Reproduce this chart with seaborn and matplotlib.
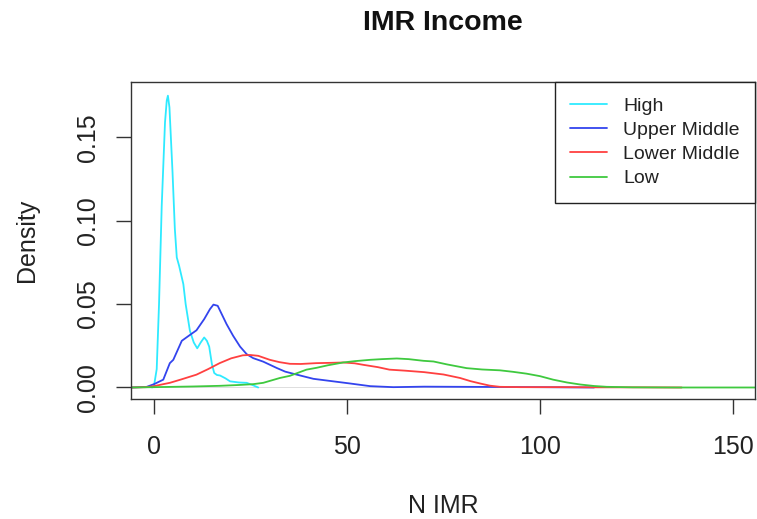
# IMR density by income group - base-R style density chart redone in seaborn

import numpy as np
import pandas as pd
import matplotlib
matplotlib.use('Agg')
import matplotlib.pyplot as plt
import seaborn as sns

# density curves (x = N IMR, y = density)
high_x = [-0.5, 0.0, 0.7, 1.3, 2.0, 2.85, 3.3, 3.6, 4.0, 4.8, 5.4, 5.9, 6.5, 7.2, 7.6, 8.2, 9.3,
          10.3, 11.2, 12.1, 13.0, 13.7, 14.3, 15.0, 15.6, 16.3, 17.1, 18.5, 19.7, 22.0, 24.0, 25.5, 27.0]
high_y = [0.0, 0.001, 0.011, 0.05, 0.109, 0.159, 0.172, 0.175, 0.168, 0.129, 0.095, 0.078, 0.073,
          0.066, 0.062, 0.05, 0.034, 0.027, 0.0235, 0.027, 0.030, 0.028, 0.0245, 0.014, 0.0087,
          0.0075, 0.0072, 0.0055, 0.0037, 0.003, 0.0028, 0.0015, 0.0]

upper_x = [-6, -2, 0, 2.4, 4.1, 5.0, 7.2, 9, 11, 13, 14.5, 15.4, 16.5, 18.8, 20.5, 22.3, 24, 25.7,
           28.3, 31.8, 34, 37, 41.3, 46.4, 50.8, 56, 62, 70, 80, 90, 100, 114]
upper_y = [0.0, 0.0003, 0.002, 0.0047, 0.0146, 0.0166, 0.028, 0.031, 0.0343, 0.041, 0.047, 0.0497,
           0.049, 0.038, 0.031, 0.0245, 0.020, 0.0176, 0.0155, 0.0117, 0.0095, 0.0077, 0.0052,
           0.0037, 0.0024, 0.0008, 0.0002, 0.0005, 0.0004, 0.0003, 0.0002, 0.0]

lower_x = [-6, -2, 0, 2, 4.1, 7, 11, 14, 17, 20, 23, 24.9, 27, 30, 32.5, 35.2, 38, 42, 46, 49, 52,
           54.2, 58, 61, 65, 70, 75, 79.3, 82, 84.5, 87, 89.6, 95, 105, 115, 125, 136.7]
lower_y = [0.0, 0.0002, 0.0008, 0.0018, 0.0028, 0.0048, 0.0077, 0.011, 0.0146, 0.0175, 0.0193,
           0.0195, 0.0190, 0.0166, 0.0152, 0.0142, 0.0141, 0.0146, 0.0148, 0.015, 0.0145, 0.0136,
           0.0122, 0.0107, 0.0101, 0.0092, 0.0078, 0.0057, 0.0038, 0.0024, 0.0011, 0.0004, 0.0002,
           0.0002, 0.0001, 0.0001, 0.0]

low_x = [-6, 0, 10, 17, 22, 25.7, 28.3, 32.6, 35.2, 39.5, 42.1, 45, 49, 52, 56, 59, 62.9, 66, 69.8,
         72.4, 76, 81, 85, 89.6, 93, 96.5, 100, 103.4, 107, 110.4, 114, 117.3, 124, 135, 145, 155.7]
low_y = [0.0, 0.0002, 0.0006, 0.001, 0.0015, 0.002, 0.0028, 0.0057, 0.0070, 0.0107, 0.0118, 0.0133,
         0.015, 0.0158, 0.0166, 0.0170, 0.0174, 0.0170, 0.0160, 0.0156, 0.0138, 0.0116, 0.0108,
         0.0103, 0.0094, 0.0083, 0.0068, 0.0047, 0.0030, 0.0018, 0.0009, 0.0004, 0.0001, 0.0, 0.0, 0.0]

groups = ["High", "Upper Middle", "Lower Middle", "Low"]
colors = ["#2EEAFF", "#3344EE", "#FF4040", "#3FC93F"]
x_ticks = [0, 50, 100, 150]
y_ticks = [0.00, 0.05, 0.10, 0.15]

frames = []
for name, xs, ys in zip(groups, [high_x, upper_x, lower_x, low_x], [high_y, upper_y, lower_y, low_y]):
    frames.append(pd.DataFrame({"N IMR": xs, "Density": ys, "Income": name}))
df = pd.concat(frames, ignore_index=True)

sns.set_style("white")
plt.rcParams['font.family'] = ['Liberation Sans', 'DejaVu Sans']

fig = plt.figure(figsize=(7.57, 5.19), dpi=100)
ax = fig.add_axes([131 / 757, 1 - 399 / 519, 624 / 757, 317 / 519])

# grey zero line like plot.density
ax.axhline(0, color="#d8d8d8", lw=0.6, zorder=1)

sns.lineplot(data=df, x="N IMR", y="Density", hue="Income", hue_order=groups,
             palette=colors, sort=False, estimator=None, lw=1.3, ax=ax, zorder=2)

ax.set_xlim(-5.96, 155.7)
ax.set_ylim(-0.0069, 0.1832)
ax.set_xticks(x_ticks)
ax.set_xticklabels([str(t) for t in x_ticks])
ax.set_yticks(y_ticks)
ax.set_yticklabels(["%.2f" % t for t in y_ticks])
ax.tick_params(axis='both', bottom=True, left=True, direction='out', length=11, width=1.0,
               color='#333333', labelsize=18, labelcolor='#222222')
ax.tick_params(axis='x', pad=15)
ax.tick_params(axis='y', labelrotation=90, pad=11)
for lab in ax.get_yticklabels():
    lab.set_va('center')
for sp in ax.spines.values():
    sp.set_visible(True)
    sp.set_color('#333333')
    sp.set_linewidth(1.0)

ax.set_xlabel("")
ax.set_ylabel("")
fig.text(443 / 757, 1 - 23 / 519, "IMR Income", ha='center', va='center',
         fontsize=20.5, fontweight='bold', color='#111111')
fig.text(443 / 757, 1 - 506 / 519, "N IMR", ha='center', va='center', fontsize=18, color='#222222')
fig.text(27 / 757, 1 - 240 / 519, "Density", ha='center', va='center', rotation=90,
         fontsize=18, color='#222222')

handles, labels = ax.get_legend_handles_labels()
leg = ax.legend(handles, labels, loc='upper right', bbox_to_anchor=(1.0, 1.0), borderaxespad=0,
                fontsize=14, frameon=True, fancybox=False, framealpha=1, edgecolor='#222222',
                handlelength=1.9, handletextpad=0.85, labelspacing=0.34, borderpad=0.78)
leg.get_frame().set_linewidth(1.0)
for line in leg.get_lines():
    line.set_linewidth(1.3)
for t in leg.get_texts():
    t.set_color('#222222')

fig.savefig("out.png", dpi=100)
